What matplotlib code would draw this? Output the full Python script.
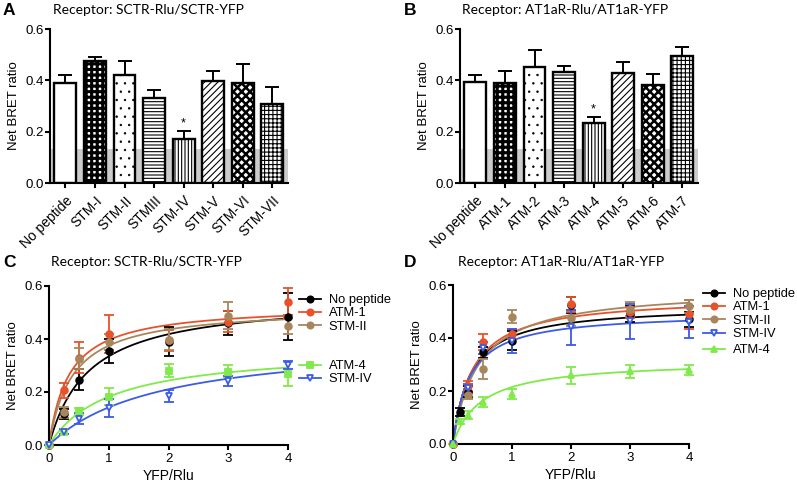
import numpy as np
import matplotlib
matplotlib.use("Agg")
import matplotlib.pyplot as plt

plt.rcParams.update({
    "font.family": ["Liberation Sans", "DejaVu Sans"],
    "font.size": 8,
    "axes.linewidth": 1.5,
    "xtick.major.width": 1.5,
    "ytick.major.width": 1.5,
    "xtick.major.size": 3.5,
    "ytick.major.size": 3.5,
    "hatch.linewidth": 1.0,
})

# ---- bar panels (A, B) ----
a_labels = ["No peptide", "STM-I", "STM-II", "STMIII", "STM-IV", "STM-V", "STM-VI", "STM-VII"]
a_mean = [0.388, 0.474, 0.420, 0.332, 0.173, 0.398, 0.389, 0.307]
a_err = [0.031, 0.018, 0.054, 0.031, 0.030, 0.038, 0.073, 0.068]

b_labels = ["No peptide", "ATM-1", "ATM-2", "ATM-3", "ATM-4", "ATM-5", "ATM-6", "ATM-7"]
b_mean = [0.394, 0.391, 0.452, 0.432, 0.232, 0.430, 0.383, 0.496]
b_err = [0.028, 0.046, 0.066, 0.024, 0.025, 0.040, 0.041, 0.033]

baseline = 0.131

# ---- saturation curves (C, D) ----
c_x = [0, 0.25, 0.5, 1, 2, 3, 4]
c_nopep = [0, 0.117, 0.246, 0.354, 0.390, 0.460, 0.484]
c_nopep_err = [0, 0.020, 0.040, 0.045, 0.055, 0.045, 0.088]
c_atm1 = [0, 0.206, 0.330, 0.419, 0.395, 0.465, 0.541]
c_atm1_err = [0, 0.028, 0.057, 0.070, 0.040, 0.040, 0.050]
c_stm2 = [0, 0.123, 0.325, 0.390, 0.398, 0.488, 0.449]
c_stm2_err = [0, 0.020, 0.040, 0.030, 0.040, 0.050, 0.030]
c_atm4 = [0, 0.050, 0.127, 0.183, 0.281, 0.277, 0.267]
c_atm4_err = [0, 0.010, 0.013, 0.033, 0.025, 0.025, 0.045]
c_stm4 = [0, 0.050, 0.100, 0.140, 0.184, 0.241, 0.302]
c_stm4_err = [0, 0.010, 0.022, 0.033, 0.022, 0.018, 0.015]
# one-site fit (Bmax, Kd)
c_fit = {"No peptide": (0.557, 0.664), "ATM-1": (0.529, 0.336), "STM-II": (0.521, 0.39),
         "ATM-4": (0.366, 1.009), "STM-IV": (0.405, 1.85)}

d_x = [0, 0.125, 0.25, 0.5, 1, 2, 3, 4]
d_nopep = [0, 0.119, 0.198, 0.346, 0.390, 0.525, 0.490, 0.470]
d_nopep_err = [0, 0.015, 0.020, 0.020, 0.035, 0.030, 0.030, 0.030]
d_atm1 = [0, np.nan, 0.217, 0.385, 0.415, 0.527, 0.497, 0.490]
d_atm1_err = [0, 0, 0.020, 0.030, 0.020, 0.029, 0.020, 0.055]
d_stm2 = [0, np.nan, 0.186, 0.284, 0.480, 0.476, 0.510, 0.520]
d_stm2_err = [0, 0, 0.015, 0.038, 0.025, 0.030, 0.027, 0.025]
d_stm4 = [0, np.nan, 0.211, 0.362, 0.390, 0.440, 0.463, 0.460]
d_stm4_err = [0, 0, 0.015, 0.024, 0.045, 0.065, 0.067, 0.060]
d_atm4 = [0, 0.085, 0.110, 0.158, 0.188, 0.260, 0.274, 0.280]
d_atm4_err = [0, 0.010, 0.015, 0.020, 0.020, 0.032, 0.025, 0.020]
d_fit = {"No peptide": (0.524, 0.293), "ATM-1": (0.557, 0.326), "STM-II": (0.589, 0.419),
         "STM-IV": (0.497, 0.274), "ATM-4": (0.316, 0.471)}

col = {"No peptide": "black", "ATM-1": "#E8522A", "STM-II": "#A8865C",
       "ATM-4": "#7FEA4A", "STM-IV": "#3C5BE6"}

hatches = [None, "+++", "..", "-----", "|||||", "/////", "xxxx", "++++"]
hatch_lw = [1.0, 2.2, 0.5, 0.8, 0.8, 0.8, 1.8, 0.8]

fig = plt.figure(figsize=(7.97, 4.84), dpi=100)
W, H = 797, 484


def px_axes(x0, x1, y_top, y_bot):
    return fig.add_axes([x0 / W, 1 - y_bot / H, (x1 - x0) / W, (y_bot - y_top) / H])


def style(ax):
    ax.spines["top"].set_visible(False)
    ax.spines["right"].set_visible(False)
    ax.set_ylim(0, 0.6)
    ax.set_yticks([0, 0.2, 0.4, 0.6])
    ax.set_yticklabels(["0.0", "0.2", "0.4", "0.6"])
    ax.tick_params(axis="y", labelsize=9.5, pad=1)
    ax.set_ylabel("Net BRET ratio", fontsize=9.5, labelpad=4)


def bar_panel(ax, labels, mean, err, star_idx):
    x = np.arange(len(labels))
    ax.axhspan(0, baseline, color="#cccccc", lw=0, zorder=0)
    bars = ax.bar(x, mean, width=0.74, color="white", edgecolor="black",
                  linewidth=1.7, zorder=2)
    for b, h, lw in zip(bars, hatches, hatch_lw):
        if h:
            b.set_hatch(h)
            if hasattr(b, "set_hatch_linewidth"):
                b.set_hatch_linewidth(lw)
    ax.errorbar(x, mean, yerr=[np.zeros(len(err)), err], fmt="none", ecolor="black",
                elinewidth=1.4, capsize=4.7, capthick=1.4, zorder=3)
    ax.text(x[star_idx], mean[star_idx] + err[star_idx] + 0.005, "*",
            ha="center", va="bottom", fontsize=9)
    ax.set_xlim(-0.52, len(labels) - 0.47)
    ax.set_xticks(x)
    ax.set_xticklabels(labels, rotation=45, ha="right", rotation_mode="anchor")
    ax.tick_params(axis="x", labelsize=10, pad=4)
    style(ax)


def curve_panel(ax, xs, series, fits):
    xx = np.linspace(0, 4, 200)
    for name, (ys, es, mk, filled) in series.items():
        c = col[name]
        bmax, kd = fits[name]
        ax.plot(xx, bmax * xx / (kd + xx), color=c, lw=1.3, zorder=2)
        ax.errorbar(xs, ys, yerr=es, fmt="none", ecolor=c, elinewidth=1.3,
                    capsize=3.5, capthick=1.3, zorder=3, clip_on=False)
        ax.plot(xs, ys, ls="none", marker=mk, ms=4.8, color=c,
                mfc=c if filled else "white", mew=1.3, zorder=4, clip_on=False)
    ax.set_xlim(0, 4)
    ax.set_xticks([0, 1, 2, 3, 4])
    ax.tick_params(axis="x", labelsize=9.5, pad=2)
    ax.set_xlabel("YFP/Rlu", fontsize=10, labelpad=3)
    style(ax)


def add_legend(ax, names, series, anchor):
    handles = []
    for n in names:
        mk, filled = series[n][2], series[n][3]
        h, = ax.plot([], [], color=col[n], lw=1.3, marker=mk, ms=4.5,
                     mfc=col[n] if filled else "white", mew=1.3)
        handles.append(h)
    leg = fig.legend(handles, names, loc="upper left", bbox_to_anchor=anchor,
                     frameon=False, fontsize=9.3, handlelength=1.7, handletextpad=0.6,
                     labelspacing=0.1, borderpad=0, borderaxespad=0)
    return leg


title_font = ["Lato", "DejaVu Sans"]

axA = px_axes(50, 288, 29, 183)
bar_panel(axA, a_labels, a_mean, a_err, 4)
axB = px_axes(460, 698, 29, 183)
bar_panel(axB, b_labels, b_mean, b_err, 4)

axC = px_axes(49, 288, 286, 445)
c_series = {
    "No peptide": (c_nopep, c_nopep_err, "o", True),
    "ATM-1": (c_atm1, c_atm1_err, "o", True),
    "STM-II": (c_stm2, c_stm2_err, "o", True),
    "ATM-4": (c_atm4, c_atm4_err, "s", True),
    "STM-IV": (c_stm4, c_stm4_err, "v", False),
}
curve_panel(axC, c_x, c_series, c_fit)
add_legend(axC, ["No peptide", "ATM-1", "STM-II"], c_series, (299 / W, 1 - 294 / H))
add_legend(axC, ["ATM-4", "STM-IV"], c_series, (299 / W, 1 - 360 / H))

axD = px_axes(453, 689, 285, 444)
d_series = {
    "No peptide": (d_nopep, d_nopep_err, "o", True),
    "ATM-1": (d_atm1, d_atm1_err, "o", True),
    "STM-II": (d_stm2, d_stm2_err, "o", True),
    "STM-IV": (d_stm4, d_stm4_err, "v", False),
    "ATM-4": (d_atm4, d_atm4_err, "^", True),
}
curve_panel(axD, d_x, d_series, d_fit)
add_legend(axD, ["No peptide", "ATM-1", "STM-II", "STM-IV"], d_series, (703 / W, 1 - 288 / H))
add_legend(axD, ["ATM-4"], d_series, (703 / W, 1 - 344 / H))

# titles and panel letters
for (lx, ly, letter), (tx, title) in zip(
        [(3, 3, "A"), (404, 3, "B"), (3, 255, "C"), (404, 255, "D")],
        [(53, "Receptor: SCTR-Rlu/SCTR-YFP"), (462, "Receptor: AT1aR-Rlu/AT1aR-YFP"),
         (51, "Receptor: SCTR-Rlu/SCTR-YFP"), (458, "Receptor: AT1aR-Rlu/AT1aR-YFP")]):
    fig.text(lx / W, 1 - ly / H, letter, fontsize=12.5, fontweight="bold", va="top", ha="left")
    fig.text(tx / W, 1 - (ly + 1) / H, title, fontsize=10, family=title_font, va="top", ha="left")

fig.savefig("out.png", dpi=100)
